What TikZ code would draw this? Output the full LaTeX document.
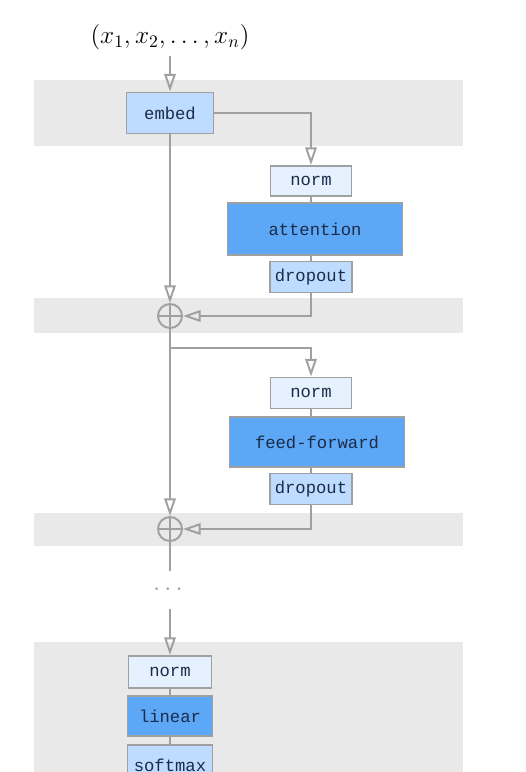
\documentclass[tikz,border=0pt]{standalone}
\usepackage{amsmath}
\usepackage{fontspec}
\setmonofont{Liberation Mono}
\usetikzlibrary{arrows.meta,positioning}
\definecolor{bandgray}{HTML}{E9E9E9}
\definecolor{linegray}{HTML}{A0A0A0}
\definecolor{darkblue}{HTML}{5CA8F7}
\definecolor{midblue}{HTML}{BDDCFF}
\definecolor{paleblue}{HTML}{E6F1FF}
\definecolor{textnavy}{HTML}{1B2B48}
\tikzset{every node/.style={font=\ttfamily\fontsize{9.8}{11}\selectfont},
  block/.style={draw=linegray, line width=1.1pt, text=textnavy, inner sep=0pt},
  wire/.style={draw=linegray, line width=1.1pt},
  flow/.style={wire, -{Triangle[open, length=10pt, width=6.5pt]}},
  addnode/.style={circle, draw=linegray, line width=1.1pt, minimum size=0.48cm, inner sep=0pt}}

\begin{document}
\begin{tikzpicture}[x=0.02cm, y=-0.02cm]
  \clip (0,0) rectangle (526,772);
  % gray bands
  \fill[bandgray] (34,80) rectangle (463,146);
  \fill[bandgray] (34,298) rectangle (463,333);
  \fill[bandgray] (34,513) rectangle (463,546);
  \fill[bandgray] (34,642) rectangle (463,772);

  \node[font=\Large] (input) at (170,37) {$(x_1, x_2, \ldots, x_n)$};
  \node[block, fill=midblue, minimum width=1.74cm, minimum height=0.82cm] (embed) at (170,113) {embed};

  % attention sublayer
  \node[block, fill=paleblue, minimum width=1.62cm, minimum height=0.6cm] (norm1) at (311,181) {norm};
  \node[block, fill=darkblue, minimum width=3.5cm, minimum height=1.04cm] (attn) at (315,229) {attention};
  \node[block, fill=midblue, minimum width=1.64cm, minimum height=0.62cm] (drop1) at (311,277) {dropout};
  \node[addnode] (add1) at (170,316) {};

  % feed-forward sublayer
  \coordinate (split) at (170,348);
  \node[block, fill=paleblue, minimum width=1.62cm, minimum height=0.62cm] (norm2) at (311,393) {norm};
  \node[block, fill=darkblue, minimum width=3.5cm, minimum height=1.0cm] (ffn) at (317,442) {feed-forward};
  \node[block, fill=midblue, minimum width=1.64cm, minimum height=0.62cm] (drop2) at (311,489) {dropout};
  \node[addnode] (add2) at (170,529) {};

  \node[text=linegray, font=\Large, minimum height=0.76cm, inner sep=0pt] (dots) at (170,590) {$\cdots$};

  % output head
  \node[block, fill=paleblue, minimum width=1.66cm, minimum height=0.64cm] (norm3) at (170,672) {norm};
  \node[block, fill=darkblue, minimum width=1.7cm, minimum height=0.8cm] (linear) at (170,716) {linear};
  \node[block, fill=midblue, minimum width=1.7cm, minimum height=0.8cm] (softmax) at (170,765) {softmax};

  % connectors
  \draw[flow] (input) -- (embed);
  \draw[flow] (embed.east) -| (norm1.north);
  \draw[flow] (embed) -- (add1);
  \draw[wire] (norm1.south) -- (norm1.south |- attn.north)
              (drop1.north |- attn.south) -- (drop1.north);
  \draw[flow] (drop1.south) |- (add1.east);
  \draw[flow] (add1.south) -- (add2.north);
  \draw[flow] (split) -| (norm2.north);
  \draw[wire] (norm2.south) -- (norm2.south |- ffn.north)
              (drop2.north |- ffn.south) -- (drop2.north);
  \draw[flow] (drop2.south) |- (add2.east);
  \draw[wire] (add2.south) -- (dots.north);
  \draw[flow] (dots.south) -- (norm3.north);
  \draw[wire] (norm3) -- (linear) (linear) -- (softmax);
  \foreach \a in {add1, add2} {
    \draw[wire] (\a.north) -- (\a.south) (\a.west) -- (\a.east);
  }
\end{tikzpicture}
\end{document}
